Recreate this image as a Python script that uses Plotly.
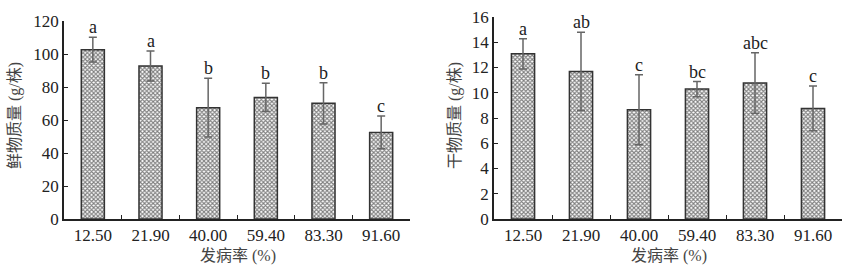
import plotly.graph_objects as go

categories = ["12.50", "21.90", "40.00", "59.40", "83.30", "91.60"]
fresh_mean = [102.6, 92.7, 67.5, 73.7, 70.1, 52.5]
fresh_err = [7.5, 9.1, 17.8, 8.5, 12.5, 9.9]
fresh_letters = ["a", "a", "b", "b", "b", "c"]
dry_mean = [13.08, 11.69, 8.65, 10.29, 10.77, 8.76]
dry_err = [1.2, 3.1, 2.77, 0.6, 2.4, 1.77]
dry_letters = ["a", "ab", "c", "bc", "abc", "c"]

W, H = 853, 274
SERIF = "Liberation Serif, Times New Roman, serif"
CJK = "Liberation Serif, Noto Sans CJK SC, serif"
TXT = "#222"

fig = go.Figure()

def add_panel(means, errs, letters, xa, ya):
    fig.add_trace(go.Bar(
        x=categories, y=means, width=0.4,
        xaxis=xa, yaxis=ya,
        marker=dict(color="white", line=dict(color="#333", width=1.5),
                    pattern=dict(shape="x", fgcolor="#000", bgcolor="white",
                                 size=3, solidity=0.6)),
        error_y=dict(type="data", array=errs, visible=True,
                     color="#666", thickness=1.5, width=4),
        showlegend=False,
    ))
    for i, (m, e, t) in enumerate(zip(means, errs, letters)):
        fig.add_annotation(x=i, y=m + e, text=t, xref=xa, yref=ya,
                           showarrow=False, yanchor="bottom", yshift=-2,
                           font=dict(family=SERIF, size=18, color=TXT))

add_panel(fresh_mean, fresh_err, fresh_letters, "x", "y")
add_panel(dry_mean, dry_err, dry_letters, "x2", "y2")

ax_common = dict(showline=True, linecolor="#222", linewidth=1.5,
                 ticks="inside", ticklen=4, tickcolor="#222", tickwidth=1.2,
                 showgrid=False, zeroline=False, automargin=False,
                 tickfont=dict(family=SERIF, size=17, color=TXT))

fig.update_layout(
    width=W, height=H,
    margin=dict(l=0, r=0, t=0, b=0, pad=0, autoexpand=False),
    paper_bgcolor="white", plot_bgcolor="white",
    xaxis=dict(type="category", domain=[64 / W, 410 / W], anchor="y",
               tickson="boundaries", range=[-0.5, 5.5], **ax_common),
    yaxis=dict(domain=[(H - 219) / H, (H - 21) / H], anchor="x",
               range=[0, 120], dtick=20, **ax_common),
    xaxis2=dict(type="category", domain=[494 / W, 842 / W], anchor="y2",
                tickson="boundaries", range=[-0.5, 5.5], **ax_common),
    yaxis2=dict(domain=[(H - 219) / H, (H - 17) / H], anchor="x2",
                range=[0, 16], dtick=2, **ax_common),
)

titles = [
    dict(x=15, y=116, text="鲜物质量 (g/株)", angle=-90),
    dict(x=455, y=116, text="干物质量 (g/株)", angle=-90),
    dict(x=238, y=256, text="发病率 (%)", angle=0),
    dict(x=669, y=256, text="发病率 (%)", angle=0),
]
for t in titles:
    fig.add_annotation(x=t["x"] / W, y=1 - t["y"] / H, xref="paper", yref="paper",
                       text=t["text"], textangle=t["angle"], showarrow=False,
                       xanchor="center", yanchor="middle",
                       font=dict(family=CJK, size=16, color="#444"))

fig.write_html("out.html")
